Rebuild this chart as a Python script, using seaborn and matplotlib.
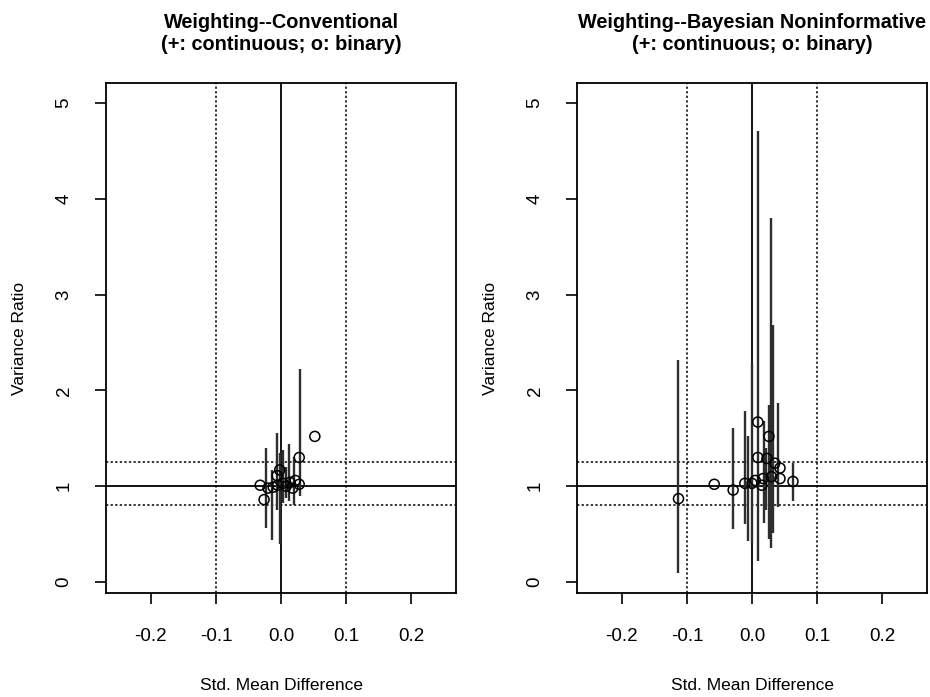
import matplotlib
matplotlib.use("Agg")
import matplotlib.pyplot as plt
import numpy as np
import pandas as pd
import seaborn as sns

sns.set_style("ticks")
plt.rcParams["font.family"] = ["Liberation Sans", "DejaVu Sans"]
plt.rcParams["text.color"] = "black"
plt.rcParams["axes.labelcolor"] = "black"

# Weighting--Conventional: points (binary covariates)
conv_x = [-0.032, -0.026, -0.020, -0.012, -0.005, 0.003, 0.014, 0.022, 0.028,
          0.028, 0.052, -0.006, -0.002, 0.008, 0.018]
conv_y = [1.01, 0.86, 0.98, 0.99, 1.01, 1.03, 1.04, 1.06, 1.02,
          1.30, 1.52, 1.11, 1.17, 1.00, 0.98]
# interval bars
conv_bar_x = [-0.023, -0.014, -0.006, -0.002, 0.003, 0.008, 0.012, 0.020, 0.029]
conv_bar_lo = [0.56, 0.44, 0.75, 0.40, 0.82, 0.88, 0.85, 0.80, 0.90]
conv_bar_hi = [1.40, 1.17, 1.56, 1.35, 1.38, 1.20, 1.44, 1.30, 2.22]

# Weighting--Bayesian Noninformative
bayes_x = [-0.113, -0.058, -0.029, -0.011, 0.000, 0.005, 0.015, 0.009, 0.009,
           0.017, 0.023, 0.026, 0.030, 0.035, 0.043, 0.043, 0.063]
bayes_y = [0.87, 1.02, 0.96, 1.03, 1.03, 1.06, 1.01, 1.67, 1.30,
           1.08, 1.29, 1.52, 1.10, 1.24, 1.19, 1.08, 1.05]
bayes_bar_x = [-0.113, -0.029, -0.011, -0.006, 0.000, 0.009, 0.019, 0.021,
               0.026, 0.029, 0.033, 0.040, 0.063]
bayes_bar_lo = [0.09, 0.55, 0.61, 0.43, 0.41, 0.22, 0.62, 0.75, 0.45, 0.35, 0.51, 0.78, 0.85]
bayes_bar_hi = [2.32, 1.61, 1.79, 1.52, 2.29, 4.71, 1.68, 1.40, 1.85, 3.80, 2.68, 1.87, 1.24]

titles = ["Weighting--Conventional\n(+: continuous; o: binary)",
          "Weighting--Bayesian Noninformative\n(+: continuous; o: binary)"]

fig = plt.figure(figsize=(9.3, 6.97), dpi=100)
ax1 = fig.add_axes([106 / 930, 104 / 697, 350 / 930, 510 / 697])
ax2 = fig.add_axes([577 / 930, 104 / 697, 350 / 930, 510 / 697])

panels = [
    (ax1, conv_x, conv_y, conv_bar_x, conv_bar_lo, conv_bar_hi, titles[0]),
    (ax2, bayes_x, bayes_y, bayes_bar_x, bayes_bar_lo, bayes_bar_hi, titles[1]),
]

for ax, px, py, bx, blo, bhi, title in panels:
    # reference lines
    ax.axvline(0, color="black", lw=1.3, zorder=1)
    ax.axhline(1, color="black", lw=1.3, zorder=1)
    for v in (-0.1, 0.1):
        ax.axvline(v, color="black", lw=1.1, ls=(0, (1.5, 1.5)), zorder=1)
    for h in (0.8, 1.25):
        ax.axhline(h, color="black", lw=1.1, ls=(0, (1.5, 1.5)), zorder=1)

    ax.vlines(bx, blo, bhi, color="#2e2e2e", lw=1.7, zorder=2)

    df = pd.DataFrame({"x": px, "y": py})
    sns.scatterplot(data=df, x="x", y="y", ax=ax, marker="o", s=52,
                    facecolors="none", edgecolor="black", linewidth=1.1, zorder=3)

    ax.set_xlim(-0.269, 0.269)
    ax.set_ylim(-0.115, 5.21)
    ax.set_xticks([-0.2, -0.1, 0.0, 0.1, 0.2])
    ax.set_xticklabels(["-0.2", "-0.1", "0.0", "0.1", "0.2"])
    ax.set_yticks([0, 1, 2, 3, 4, 5])
    ax.tick_params(axis="both", direction="out", length=8, width=1.2,
                   labelsize=13.5, colors="black")
    ax.tick_params(axis="x", pad=17)
    ax.tick_params(axis="y", pad=16)
    for lab in ax.get_yticklabels():
        lab.set_rotation(90)
        lab.set_va("center")
    for s in ax.spines.values():
        s.set_visible(True)
        s.set_linewidth(1.3)
        s.set_color("black")
    ax.set_xlabel("Std. Mean Difference", fontsize=12.5, labelpad=24)
    ax.set_ylabel("Variance Ratio", fontsize=12.5, labelpad=21)
    ax.set_title(title, fontsize=14.3, fontweight="bold", pad=24, linespacing=1.15)

fig.savefig("out.png", dpi=100, facecolor="white")
